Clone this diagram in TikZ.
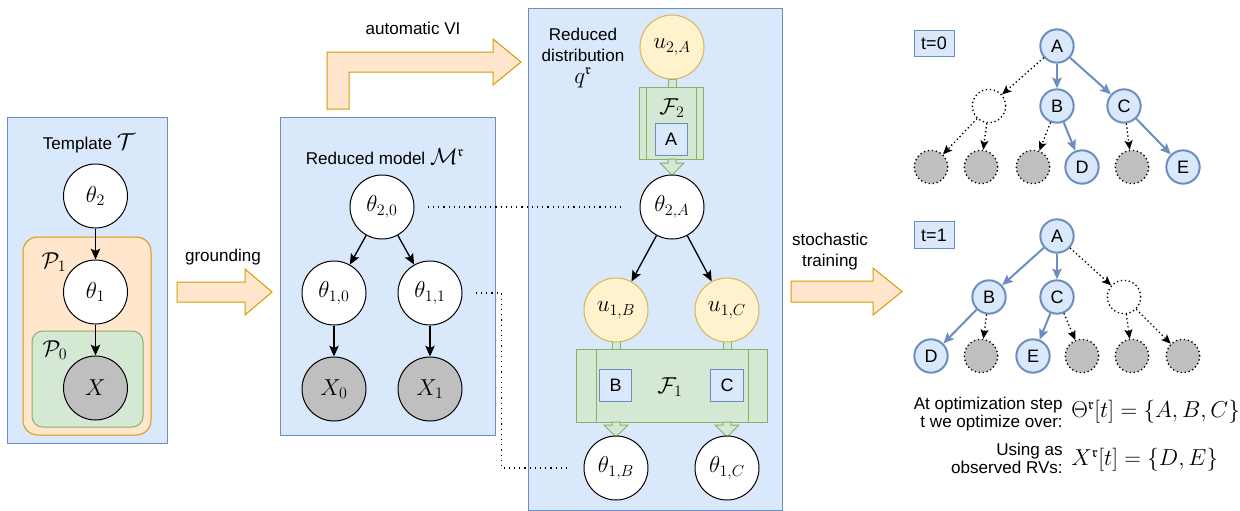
\documentclass[tikz,border=0pt]{standalone}
\usepackage{amssymb}
\usepackage{fontspec}
\setmainfont{Liberation Sans}
\usetikzlibrary{arrows.meta}
\definecolor{bfill}{HTML}{DAE8FC}
\definecolor{bline}{HTML}{6C8EBF}
\definecolor{ofill}{HTML}{FFE6CC}
\definecolor{oline}{HTML}{D79B00}
\definecolor{gfill}{HTML}{D5E8D4}
\definecolor{gline}{HTML}{82B366}
\definecolor{yfill}{HTML}{FFF2CC}
\definecolor{yline}{HTML}{D6B656}
\definecolor{grayfill}{HTML}{BFBFBF}
\tikzset{
  txt/.style={font=\fontsize{12.8}{16}\selectfont, inner sep=0pt},
  mth/.style={font=\fontsize{17}{20}\selectfont, inner sep=0pt},
  var/.style={circle, draw=black, line width=0.75pt, fill=white, minimum size=48pt, inner sep=0pt, font=\fontsize{17}{20}\selectfont},
  obs/.style={var, fill=grayfill},
  qvar/.style={var, fill=yfill, draw=yline},
  arr/.style={-{Stealth[length=8pt,width=7pt,inset=1.5pt]}, line width=1pt},
  dotline/.style={line width=0.9pt, dash pattern=on 0.9pt off 3pt},
  bluebox/.style={fill=bfill, draw=bline, line width=0.75pt},
  bigarrow/.style={fill=ofill, draw=oline, line width=0.75pt},
  greenbox/.style={fill=gfill, draw=gline, line width=0.75pt},
  tnode/.style={circle, draw=bline, fill=bfill, line width=1.5pt, minimum size=25pt, inner sep=0pt, font=\fontsize{13.5}{15}\selectfont},
  ghost/.style={circle, draw=black, fill=white, line width=1pt, dash pattern=on 1pt off 2pt, minimum size=25pt, inner sep=0pt},
  leaf/.style={ghost, fill=grayfill},
  tarr/.style={-{Stealth[length=8pt,width=7pt,inset=1.5pt]}, draw=bline, line width=1.5pt},
  darr/.style={-{Stealth[length=7pt,width=6pt,inset=1.5pt]}, line width=1pt, dash pattern=on 1pt off 2pt},
  tbox/.style={draw=bline, fill=bfill, line width=0.75pt, minimum width=30pt, minimum height=20pt, inner sep=0pt, font=\fontsize{13.5}{15}\selectfont},
}
\begin{document}
\begin{tikzpicture}[x=0.75pt,y=-0.75pt]
\useasboundingbox (0,0) rectangle (1240,511);

% ---------- Template ----------
\draw[bluebox] (7,117) rectangle (167,443);
\draw[fill=ofill, draw=oline, line width=0.75pt, rounded corners=11pt] (23,237) rectangle (151,435);
\draw[greenbox, rounded corners=8pt] (32,331) rectangle (143,427);
\node[txt] (ttitle) at (89,143) {Template \fontsize{16}{18}\selectfont$\mathcal{T}$};
\node[mth] (p1) at (54,262) {$\mathcal{P}_1$};
\node[mth] (p0) at (55,350) {$\mathcal{P}_0$};
\node[var] (th2) at (95.5,196) {$\theta_2$};
\node[var] (th1) at (95.5,292) {$\theta_1$};
\node[obs] (x) at (95.5,388) {$X$};
\draw[arr] (th2) -- (th1);
\draw[arr] (th1) -- (x);

% ---------- grounding ----------
\draw[bigarrow] (177,282) -- (245,282) -- (245,269) -- (272,292) -- (245,315) -- (245,302) -- (177,302) -- cycle;
\node[txt] (lground) at (223,257) {grounding};

% ---------- Reduced model ----------
\draw[bluebox] (280,117) rectangle (495,435);
\node[txt] (mtitle) at (385,157) {Reduced model \fontsize{16}{18}\selectfont$\mathcal{M}^{\mathfrak{r}}$};
\node[var] (t20) at (382,207) {$\theta_{2,0}$};
\node[var] (t10) at (334,293) {$\theta_{1,0}$};
\node[var] (t11) at (430,293) {$\theta_{1,1}$};
\node[obs] (x0) at (334,389) {$X_0$};
\node[obs] (x1) at (430,389) {$X_1$};
\draw[arr] (t20) -- (t10);
\draw[arr] (t20) -- (t11);
\draw[arr] (t10) -- (x0);
\draw[arr] (t11) -- (x1);

% ---------- automatic VI ----------
\draw[bigarrow] (327,109) -- (327,52) -- (493,52) -- (493,39) -- (521,62) -- (493,85) -- (493,72) -- (349,72) -- (349,109) -- cycle;
\node[txt] (lvi) at (413,28) {automatic VI};

% ---------- Reduced distribution ----------
\draw[bluebox] (528,8) rectangle (782,510);
\node[txt, align=center] (dtitle) at (583,58) {Reduced\\distribution\\\fontsize{16}{18}\selectfont$q^{\mathfrak{r}}$};
% F2
\draw[greenbox] (668,79) rectangle (676,87);
\draw[greenbox] (639,87) rectangle (703,159);
\draw[gline, line width=0.75pt] (646,87) -- (646,159) (696,87) -- (696,159);
\node[mth] (f2) at (672,108) {$\mathcal{F}_2$};
\node[tbox, minimum width=24pt, minimum height=24.5pt] (bA) at (671,139.5) {A};
\draw[greenbox] (668,159) -- (676,159) -- (676,163) -- (684,163) -- (672,175) -- (660,163) -- (668,163) -- cycle;
\node[qvar] (u2A) at (672,47) {$u_{2,A}$};
\node[var] (t2A) at (672,207) {$\theta_{2,A}$};
% F1
\draw[greenbox] (612,340) rectangle (620,349);
\draw[greenbox] (723,340) rectangle (731,349);
\draw[greenbox] (576,349) rectangle (767,422);
\draw[gline, line width=0.75pt] (596,349) -- (596,422) (748,349) -- (748,422);
\node[mth] (f1) at (670,387) {$\mathcal{F}_1$};
\node[tbox, minimum width=24.5pt, minimum height=24.5pt] (bB) at (615.5,385.5) {B};
\node[tbox, minimum width=24.5pt, minimum height=24.5pt] (bC) at (727,385.5) {C};
\draw[greenbox] (612,422) -- (620,422) -- (620,425) -- (628,425) -- (616,437) -- (604,425) -- (612,425) -- cycle;
\draw[greenbox] (723,422) -- (731,422) -- (731,425) -- (739,425) -- (727,437) -- (715,425) -- (723,425) -- cycle;
\node[qvar] (u1B) at (616,310) {$u_{1,B}$};
\node[qvar] (u1C) at (727,310) {$u_{1,C}$};
\node[var] (t1B) at (616,468) {$\theta_{1,B}$};
\node[var] (t1C) at (727,468) {$\theta_{1,C}$};
\draw[arr] (t2A) -- (u1B);
\draw[arr] (t2A) -- (u1C);

% dotted links
\draw[dotline, shorten <=10pt, shorten >=14pt] (t20) -- (t2A);
\draw[dotline, shorten <=10pt, shorten >=12pt] (t11.east) -- ++(39,0) |- (t1B.west);

% ---------- stochastic training ----------
\draw[bigarrow] (791,281) -- (873,281) -- (873,268) -- (902,291.5) -- (873,315) -- (873,302) -- (791,302) -- cycle;
\node[txt, align=center, font=\fontsize{12.8}{15.8}\selectfont] (lst) at (830,251.5) {stochastic\\training};

% ---------- tree t=0 ----------
\node[tbox] (t0) at (934,43.5) {t=0};
\node[tnode] (aA) at (1057,46) {A};
\node[ghost] (aG) at (989,106) {};
\node[tnode] (aB) at (1057,106) {B};
\node[tnode] (aC) at (1124,106) {C};
\node[leaf] (aL1) at (931,167) {};
\node[leaf] (aL2) at (981,167) {};
\node[leaf] (aL3) at (1033,167) {};
\node[tnode] (aD) at (1082,167) {D};
\node[leaf] (aL5) at (1132,167) {};
\node[tnode] (aE) at (1183,167) {E};
\draw[darr] (aA) -- (aG);
\draw[tarr] (aA) -- (aB);
\draw[tarr] (aA) -- (aC);
\draw[darr] (aG) -- (aL1);
\draw[darr] (aG) -- (aL2);
\draw[darr] (aB) -- (aL3);
\draw[tarr] (aB) -- (aD);
\draw[darr] (aC) -- (aL5);
\draw[tarr] (aC) -- (aE);

% ---------- tree t=1 ----------
\node[tbox] (t1) at (934,235) {t=1};
\node[tnode] (bbA) at (1057,236) {A};
\node[tnode] (bbB) at (989,297) {B};
\node[tnode] (bbC) at (1057,297) {C};
\node[ghost] (bbG) at (1124,297) {};
\node[tnode] (bbD) at (931,356) {D};
\node[leaf] (bbL2) at (981,356) {};
\node[tnode] (bbE) at (1033,356) {E};
\node[leaf] (bbL4) at (1082,356) {};
\node[leaf] (bbL5) at (1132,356) {};
\node[leaf] (bbL6) at (1183,356) {};
\draw[tarr] (bbA) -- (bbB);
\draw[tarr] (bbA) -- (bbC);
\draw[darr] (bbA) -- (bbG);
\draw[tarr] (bbB) -- (bbD);
\draw[darr] (bbB) -- (bbL2);
\draw[tarr] (bbC) -- (bbE);
\draw[darr] (bbC) -- (bbL4);
\draw[darr] (bbG) -- (bbL5);
\draw[darr] (bbG) -- (bbL6);

% ---------- bottom text ----------
\node[txt, align=right, anchor=east, font=\fontsize{12.8}{13.5}\selectfont] (s1) at (1063,414) {At optimization step\\t we optimize over:};
\node[mth, anchor=west, font=\fontsize{16.4}{19}\selectfont] (m1) at (1071,412) {$\Theta^{\mathfrak{r}}[t] = \{A, B, C\}$};
\node[txt, align=right, anchor=east, font=\fontsize{12.8}{13}\selectfont] (s2) at (1063,458.5) {Using as\\observed RVs:};
\node[mth, anchor=west, font=\fontsize{16.4}{19}\selectfont] (m2) at (1071,460) {$X^{\mathfrak{r}}[t] = \{D, E\}$};
\end{tikzpicture}
\end{document}
